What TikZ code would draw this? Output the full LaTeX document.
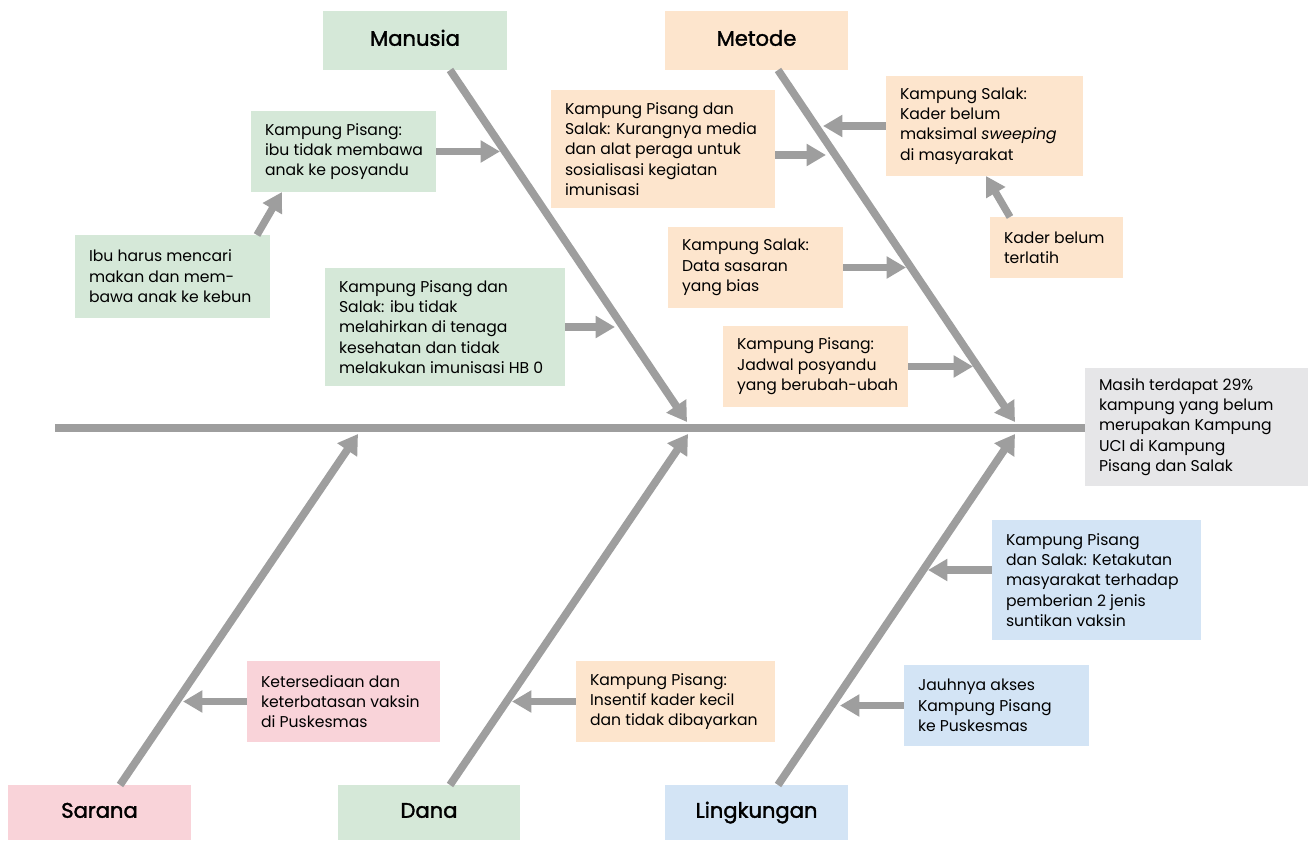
\documentclass[tikz,border=0pt]{standalone}
\usepackage{fontspec}
\setmainfont{Poppins}
\newfontfamily\titlefont{Poppins}[FakeBold=1.6]
\usetikzlibrary{arrows.meta,calc}
\definecolor{cgreen}{HTML}{D5E8D8}
\definecolor{cpeach}{HTML}{FDE5CD}
\definecolor{cpink}{HTML}{F9D3D9}
\definecolor{cblue}{HTML}{D3E4F5}
\definecolor{cgray}{HTML}{E6E6E8}
\definecolor{cline}{HTML}{9E9E9E}
\newcommand\cbox[7]{%
  \pgfmathsetmacro\bw{(#4-#2)*0.02}%
  \pgfmathsetmacro\bh{(#5-#3)*0.02}%
  \node[#6, boxbg, minimum width=\bw cm, minimum height=\bh cm] (#1) at ({(#2+#4)/2},{(#3+#5)/2}) {};%
  \node[cause, anchor=west] (#1t) at ($(#1.west)+(14,0)$) {#7};%
}
\newcommand\tbox[7]{%
  \pgfmathsetmacro\bw{(#4-#2)*0.02}%
  \pgfmathsetmacro\bh{(#5-#3)*0.02}%
  \node[#6, minimum width=\bw cm, minimum height=\bh cm] (#1) at ({(#2+#4)/2},{(#3+#5)/2}) {#7};%
}
\tikzset{
  boxbg/.style={inner sep=0pt, draw=none},
  cause/.style={inner sep=0pt, align=left, font=\fontsize{8.9}{11.6}\selectfont, text=black},
  title/.style={inner sep=0pt, text height=8.6pt, text depth=2.6pt, font=\titlefont\fontsize{12}{14}\selectfont, text=black},
  bone/.style={draw=cline, line width=4.4pt, -{Triangle[width=13pt,length=11pt]}},
  sub/.style={draw=cline, line width=4.2pt, -{Triangle[width=12pt,length=11pt]}},
  spine/.style={draw=cline, line width=4.4pt},
}
\begin{document}
\begin{tikzpicture}[x=0.02cm,y=-0.02cm]
\useasboundingbox (0,0) rectangle (1312,841);
% titles
\tbox{man}{323}{11}{507}{70}{title,fill=cgreen}{Manusia}
\tbox{met}{665}{11}{848}{70}{title,fill=cpeach}{Metode}
\tbox{sar}{8}{785}{191}{840}{title,fill=cpink}{Sarana}
\tbox{dan}{338}{785}{520}{840}{title,fill=cgreen}{Dana}
\tbox{lin}{665}{785}{848}{840}{title,fill=cblue}{Lingkungan}
% effect
\cbox{eff}{1085}{368}{1308}{486}{fill=cgray}{Masih terdapat 29\%\\kampung yang belum\\merupakan Kampung\\UCI di Kampung\\Pisang dan Salak}
% causes
\cbox{c1}{251}{111}{436}{192}{fill=cgreen}{Kampung Pisang:\\ibu tidak membawa\\anak ke posyandu}
\cbox{c2}{75}{235}{270}{318}{fill=cgreen}{Ibu harus mencari\\makan dan mem-\\bawa anak ke kebun}
\cbox{c3}{325}{268}{565}{386}{fill=cgreen}{Kampung Pisang dan\\Salak: ibu tidak\\melahirkan di tenaga\\kesehatan dan tidak\\melakukan imunisasi HB 0}
\cbox{c4}{551}{90}{775}{208}{fill=cpeach}{Kampung Pisang dan\\Salak: Kurangnya media\\dan alat peraga untuk\\sosialisasi kegiatan\\imunisasi}
\cbox{c5}{886}{76}{1083}{176}{fill=cpeach}{Kampung Salak:\\Kader belum\\maksimal \textit{sweeping}\\di masyarakat}
\cbox{c6}{990}{217}{1123}{278}{fill=cpeach}{Kader belum\\terlatih}
\cbox{c7}{668}{227}{843}{308}{fill=cpeach}{Kampung Salak:\\Data sasaran\\yang bias}
\cbox{c8}{723}{326}{908}{407}{fill=cpeach}{Kampung Pisang:\\Jadwal posyandu\\yang berubah-ubah}
\cbox{c9}{992}{520}{1201}{640}{fill=cblue}{Kampung Pisang\\dan Salak: Ketakutan\\masyarakat terhadap\\pemberian 2 jenis\\suntikan vaksin}
\cbox{c10}{904}{665}{1089}{746}{fill=cblue}{Jauhnya akses\\Kampung Pisang\\ke Puskesmas}
\cbox{c11}{576}{661}{775}{742}{fill=cpeach}{Kampung Pisang:\\Insentif kader kecil\\dan tidak dibayarkan}
\cbox{c12}{247}{661}{440}{742}{fill=cpink}{Ketersediaan dan\\keterbatasan vaksin\\di Puskesmas}
% spine
\coordinate (sL) at (55,428);
\draw[spine] (sL) -- (sL -| eff.west);
% bones
\coordinate (manS) at (450,70);  \coordinate (manT) at (687,422);
\coordinate (metS) at (778,70);  \coordinate (metT) at (1015,422);
\coordinate (sarS) at (120,785); \coordinate (sarT) at (358,434);
\coordinate (danS) at (450,785); \coordinate (danT) at (688,434);
\coordinate (linS) at (778,785); \coordinate (linT) at (1015,434);
\draw[bone] (manS) -- (manT);
\draw[bone] (metS) -- (metT);
\draw[bone] (sarS) -- (sarT);
\draw[bone] (danS) -- (danT);
\draw[bone] (linS) -- (linT);
% sub arrows
\coordinate (t1) at (500,151.5);
\coordinate (t2s) at (257,235); \coordinate (t2) at (282,192);
\coordinate (t3) at (615,327);
\coordinate (t4) at (826,155);
\coordinate (t5) at (823,126);
\coordinate (t6s) at (1010,217); \coordinate (t6) at (986,176);
\coordinate (t7) at (906,267.5);
\coordinate (t8) at (973,366.5);
\coordinate (t9) at (928,570);
\coordinate (t10) at (840,705.5);
\coordinate (t11) at (512,701.5);
\coordinate (t12) at (183,701.5);
\draw[sub] (c1.east) -- (t1);
\draw[sub] (t2s) -- (t2);
\draw[sub] (c3.east) -- (t3);
\draw[sub] (c4.east |- t4) -- (t4);
\draw[sub] (c5.west |- t5) -- (t5);
\draw[sub] (t6s) -- (t6);
\draw[sub] (c7.east) -- (t7);
\draw[sub] (c8.east) -- (t8);
\draw[sub] (c9.west |- t9) -- (t9);
\draw[sub] (c10.west) -- (t10);
\draw[sub] (c11.west) -- (t11);
\draw[sub] (c12.west) -- (t12);
\end{tikzpicture}
\end{document}
